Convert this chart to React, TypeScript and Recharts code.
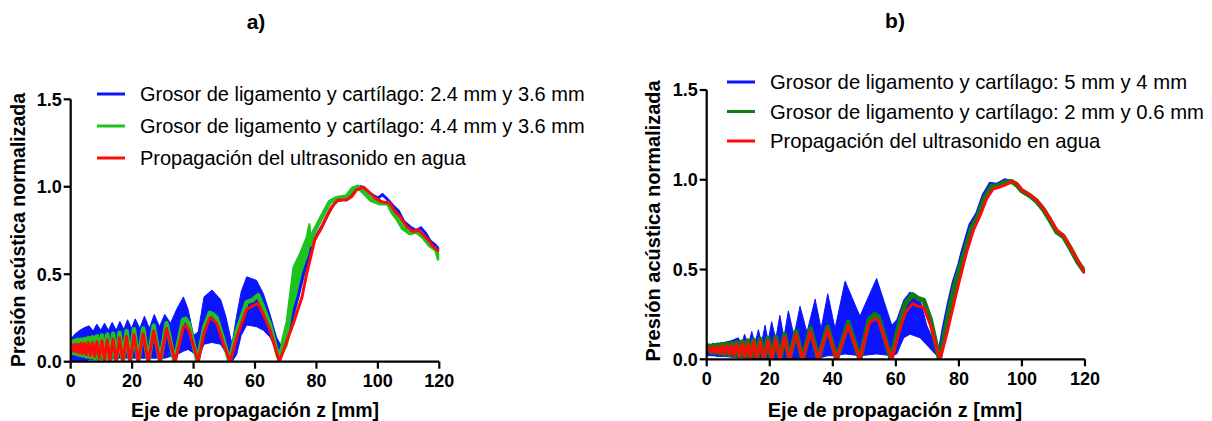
import React from "react";
import { ComposedChart, Area, Line, XAxis, YAxis } from "recharts";

// [z (mm), pressure]
const X_TICKS = [0, 20, 40, 60, 80, 100, 120];
const Y_TICKS = [0, 0.5, 1, 1.5];

const LEGEND_A = [
  "Grosor de ligamento y cartílago: 2.4 mm y 3.6 mm",
  "Grosor de ligamento y cartílago: 4.4 mm y 3.6 mm",
  "Propagación del ultrasonido en agua",
];
const LEGEND_B = [
  "Grosor de ligamento y cartílago: 5 mm y 4 mm",
  "Grosor de ligamento y cartílago: 2 mm y 0.6 mm",
  "Propagación del ultrasonido en agua",
];

// ---- panel a ----
// blue: [z, low, high] envelope of the fast oscillation
const BLUE_A_BAND = [
  [0, 0, 0.13], [1.5, 0, 0.16], [3, 0, 0.18], [4.5, 0.005, 0.195], [6, 0.01, 0.205],
  [7.3, 0.01, 0.175], [8.5, 0.01, 0.215], [9.8, 0.012, 0.18], [11, 0.015, 0.22],
  [12.3, 0.015, 0.18], [13.5, 0.015, 0.225], [14.8, 0.02, 0.18], [16, 0.02, 0.23],
  [17.3, 0.02, 0.185], [18.5, 0.02, 0.24], [19.8, 0.02, 0.19], [21, 0.02, 0.245],
  [22.5, 0.02, 0.19], [24, 0.02, 0.26], [25.6, 0.02, 0.19], [27.2, 0.02, 0.27],
  [28.9, 0.02, 0.2], [30.6, 0.02, 0.27], [32.5, 0.03, 0.22], [34.5, 0.04, 0.3],
  [36.7, 0.06, 0.37], [38.2, 0.07, 0.3], [40, 0.05, 0.15], [41.5, 0.01, 0.17],
  [43.4, 0.1, 0.37], [46, 0.11, 0.41], [48.8, 0.1, 0.355], [50.5, 0.05, 0.26],
  [52.5, 0, 0.1], [54, 0.04, 0.26], [55.5, 0.15, 0.4], [57.3, 0.21, 0.485],
  [60.5, 0.2, 0.465], [62.7, 0.18, 0.39], [64.9, 0.14, 0.27], [67, 0.06, 0.14],
  [68.5, 0.04, 0.09],
];
const BLUE_A_LINE = [
  [68.5, 0.06], [70, 0.13], [72, 0.25], [74, 0.37], [76, 0.52], [78, 0.64], [80, 0.72],
  [82, 0.78], [84.5, 0.87], [86.5, 0.92], [89.5, 0.93], [91.5, 0.96], [93, 0.99],
  [94.5, 1.0], [96.5, 0.975], [98.5, 0.95], [100, 0.935], [101.5, 0.955], [103, 0.93],
  [105, 0.89], [106.7, 0.86], [108.5, 0.8], [110.5, 0.77], [112.5, 0.75], [114, 0.765],
  [115.5, 0.735], [117, 0.69], [118.5, 0.67], [120, 0.64],
];
const GREEN_A_BAND = [
  [68.5, 0.03, 0.1], [70.3, 0.09, 0.23], [72.5, 0.25, 0.54], [74.7, 0.42, 0.62],
  [76.8, 0.54, 0.71], [77.7, 0.6, 0.79], [78.2, 0.64, 0.7], [79, 0.7, 0.735],
];
const GREEN_A = [
  [0, 0.09], [0.5, 0.115], [0.9, 0.05], [1.35, 0.12], [1.8, 0.045], [2.3, 0.125],
  [2.8, 0.04], [3.35, 0.125], [3.9, 0.035], [4.5, 0.13], [5.1, 0.03], [5.75, 0.135],
  [6.4, 0.025], [7.1, 0.14], [7.8, 0.02], [8.55, 0.145], [9.3, 0.012], [10.15, 0.15],
  [11, 0.006], [11.9, 0.155], [12.8, 0], [13.8, 0.16], [14.8, 0], [15.9, 0.165], [17, 0],
  [18.2, 0.175], [19.3, 0], [20.6, 0.185], [22, 0], [23.6, 0.19], [25.3, 0], [27, 0.205],
  [29.1, 0], [31.2, 0.22], [33.8, 0], [36.6, 0.24], [37.4, 0.245], [38.5, 0.215],
  [41.3, 0], [43.5, 0.2], [45.3, 0.28], [46.3, 0.27], [47.5, 0.25], [49.8, 0.12],
  [51.7, 0], [54, 0.17], [57.3, 0.34], [59, 0.35], [61, 0.38], [62.7, 0.31], [64.9, 0.21],
  [67.5, 0.03], [68.5, 0.06], [70.3, 0.16], [72.5, 0.4], [74.7, 0.52], [76.8, 0.62],
  [77.7, 0.72], [78.2, 0.67], [79, 0.735], [81.2, 0.81], [84.4, 0.915], [86.6, 0.935],
  [89.8, 0.944], [91.9, 0.99], [93.5, 1.0], [95.7, 0.963], [97.8, 0.925], [100.6, 0.906],
  [103.3, 0.906], [104.9, 0.85], [106.6, 0.81], [108.2, 0.763], [110.4, 0.735],
  [112.5, 0.744], [114.7, 0.715], [116.8, 0.668], [119, 0.64], [120, 0.58],
];
const RED_A = [
  [0, 0.075], [0.5, 0.095], [0.9, 0.06], [1.35, 0.1], [1.8, 0.055], [2.3, 0.1], [2.8, 0.05],
  [3.35, 0.105], [3.9, 0.045], [4.5, 0.105], [5.1, 0.04], [5.75, 0.11], [6.4, 0.035],
  [7.1, 0.11], [7.8, 0.03], [8.55, 0.115], [9.3, 0.02], [10.15, 0.12], [11, 0.012],
  [11.9, 0.125], [12.8, 0.005], [13.8, 0.13], [14.8, 0], [15.9, 0.135], [17, 0],
  [18.2, 0.145], [19.3, 0], [20.6, 0.155], [22, 0], [23.6, 0.16], [25.3, 0], [27, 0.175],
  [29.1, 0], [31.2, 0.19], [34, 0], [36.7, 0.2], [37.5, 0.205], [38.5, 0.18], [41.5, 0],
  [43.5, 0.17], [45.3, 0.25], [46.3, 0.24], [47.5, 0.22], [49.8, 0.1], [51.9, 0],
  [54.1, 0.14], [57.3, 0.3], [58.9, 0.315], [61, 0.335], [62.7, 0.27], [64.9, 0.18],
  [67.9, 0], [70.3, 0.115], [72.5, 0.22], [75.3, 0.37], [76.8, 0.5], [79.5, 0.7],
  [81.2, 0.75], [83.3, 0.83], [85.5, 0.896], [87.1, 0.925], [89.8, 0.925], [91.5, 0.944],
  [93.1, 0.982], [95.3, 0.998], [96.9, 0.973], [99.1, 0.935], [101.2, 0.915],
  [103.9, 0.906], [105.6, 0.858], [107.2, 0.83], [109.4, 0.772], [111.5, 0.744],
  [113.2, 0.753], [114.8, 0.725], [116.4, 0.696], [118, 0.658], [120, 0.63],
];

// ---- panel b ----
const BLUE_B_BAND = [
  [0, 0.02, 0.08], [2, 0.02, 0.085], [4, 0.015, 0.09], [6, 0.015, 0.095], [8, 0.012, 0.105],
  [10, 0.01, 0.12], [11.1, 0.01, 0.08], [12, 0.01, 0.14], [13.2, 0.01, 0.08],
  [14.3, 0.005, 0.155], [15.3, 0.005, 0.085], [16.4, 0.005, 0.165], [17.4, 0.005, 0.09],
  [18.5, 0, 0.19], [19.5, 0, 0.1], [20.6, 0, 0.21], [21.9, 0, 0.11], [23.2, 0, 0.245],
  [24.5, 0, 0.12], [25.9, 0, 0.27], [27.7, 0, 0.13], [29.6, 0, 0.295], [31.8, 0, 0.15],
  [34.4, 0, 0.335], [36.3, 0.01, 0.17], [38.4, 0.02, 0.365], [40.7, 0.02, 0.17],
  [43.9, 0.03, 0.435], [48.6, 0.02, 0.24], [53.9, 0.03, 0.45], [58.7, 0.02, 0.19],
  [60.3, 0.03, 0.22], [62.5, 0.12, 0.33], [64.5, 0.14, 0.375], [67.7, 0.12, 0.33],
  [69.8, 0.08, 0.19], [73, 0.02, 0.06], [74, 0, 0.02],
];
const BLUE_B_LINE = [
  [73.5, 0.02], [75, 0.17], [76.5, 0.3], [78.2, 0.43], [80, 0.53], [81, 0.6], [83.5, 0.75],
  [85.6, 0.81], [87.7, 0.915], [89.9, 0.98], [92, 0.975], [94.6, 1.0], [96.8, 0.99],
  [98.5, 0.965], [100, 0.935], [102.5, 0.91], [104.7, 0.875], [106.8, 0.83],
  [108.9, 0.775], [111, 0.71], [113.1, 0.685], [115.3, 0.62], [117.3, 0.55], [120, 0.485],
];
const GREEN_B = [
  [0, 0.055], [0.7, 0.075], [1.4, 0.04], [2.1, 0.078], [2.8, 0.037], [3.5, 0.08],
  [4.2, 0.034], [4.9, 0.083], [5.6, 0.03], [6.4, 0.086], [7.2, 0.026], [8, 0.09],
  [8.8, 0.022], [9.6, 0.094], [10.4, 0.017], [11.3, 0.098], [12.1, 0.012], [13, 0.103],
  [13.9, 0.006], [14.9, 0.108], [15.9, 0], [17, 0.112], [18.2, 0], [19.4, 0.118],
  [20.6, 0], [21.9, 0.125], [23.2, 0], [24.7, 0.14], [26.2, 0], [28.3, 0.155], [30.4, 0],
  [32.9, 0.17], [35.4, 0], [38.3, 0.18], [41.2, 0], [44.9, 0.205], [48.6, 0], [51.5, 0.22],
  [53.3, 0.25], [54.5, 0.235], [58.5, 0], [61, 0.19], [63, 0.31], [65.3, 0.36], [67, 0.34],
  [68.8, 0.33], [71, 0.22], [73.8, 0], [75, 0.1], [77, 0.28], [78.8, 0.42], [81.7, 0.59],
  [84, 0.73], [86.1, 0.8], [88.2, 0.9], [90.4, 0.965], [92.5, 0.965], [94.6, 0.985],
  [96.8, 0.99], [98.4, 0.97], [99.9, 0.94], [102.6, 0.91], [104.7, 0.88], [106.8, 0.835],
  [108.9, 0.775], [111, 0.71], [113.1, 0.685], [115.3, 0.62], [117.6, 0.545], [120, 0.485],
];
const RED_B = [
  [0, 0.05], [0.7, 0.065], [1.4, 0.04], [2.1, 0.068], [2.8, 0.037], [3.5, 0.07],
  [4.2, 0.034], [4.9, 0.073], [5.6, 0.03], [6.4, 0.076], [7.2, 0.026], [8, 0.08],
  [8.8, 0.022], [9.6, 0.083], [10.4, 0.017], [11.3, 0.087], [12.1, 0.012], [13, 0.092],
  [13.9, 0.006], [14.9, 0.097], [15.9, 0], [17, 0.1], [18.2, 0], [19.4, 0.105], [20.6, 0],
  [21.9, 0.112], [23.2, 0], [24.7, 0.125], [26.2, 0], [28.3, 0.14], [30.4, 0],
  [32.9, 0.155], [35.4, 0], [38.3, 0.165], [41.2, 0], [44.9, 0.185], [48.6, 0],
  [51.5, 0.2], [53.3, 0.225], [54.5, 0.215], [58.7, 0], [61, 0.15], [63, 0.26],
  [65.3, 0.31], [67, 0.295], [68.8, 0.29], [71, 0.19], [74, 0], [76, 0.13], [78, 0.28],
  [79.8, 0.414], [82.5, 0.6], [84.6, 0.72], [86.7, 0.8], [88.8, 0.895], [90.9, 0.95],
  [93, 0.96], [94.6, 0.97], [96.8, 0.99], [98.4, 0.98], [99.9, 0.945], [102.6, 0.915],
  [104.7, 0.887], [106.8, 0.84], [108.9, 0.785], [111, 0.72], [113.1, 0.692],
  [115.3, 0.627], [117.9, 0.544], [120, 0.479],
];

const BLUE = "#0a14ff";
const RED = "#ff0a0a";
const GREEN_LIGHT = "#1fc31f";
const GREEN_DARK = "#0e7d12";
const FONT = "'Liberation Sans', Arial, Helvetica, sans-serif";

const toLine = (pts: number[][]) => pts.map(([z, v]) => ({ z, v }));
const toBand = (pts: number[][]) => pts.map(([z, lo, hi]) => ({ z, v: [lo, hi] }));

const tickStyle = { fontSize: 18, fontWeight: 700, fill: "#000", fontFamily: FONT };

type PanelProps = {
  left: number;
  width: number;
  margin: { top: number; right: number; bottom: number; left: number };
  blueBand: number[][];
  blueLine: number[][];
  greenBand?: number[][];
  green: number[][];
  red: number[][];
  greenColor: string;
  greenWidth: number;
};

function Panel(p: PanelProps) {
  return (
    <div style={{ position: "absolute", left: p.left, top: 0 }}>
      <ComposedChart width={p.width} height={421} margin={p.margin}>
        <XAxis
          dataKey="z"
          type="number"
          domain={[0, 120]}
          ticks={X_TICKS}
          allowDataOverflow
          height={30}
          stroke="#000"
          strokeWidth={2.2}
          tickSize={7}
          tickMargin={6}
          tick={tickStyle}
          tickLine={{ stroke: "#000", strokeWidth: 2.2 }}
        />
        <YAxis
          type="number"
          domain={[0, 1.5]}
          ticks={Y_TICKS}
          allowDataOverflow
          width={50}
          stroke="#000"
          strokeWidth={2.2}
          tickSize={7}
          tickMargin={2}
          tick={tickStyle}
          tickLine={{ stroke: "#000", strokeWidth: 2.2 }}
          tickFormatter={(v: number) => v.toFixed(1)}
        />
        <Area
          data={toBand(p.blueBand)}
          dataKey="v"
          type="linear"
          stroke={BLUE}
          strokeWidth={1}
          fill={BLUE}
          fillOpacity={1}
          isAnimationActive={false}
        />
        <Line
          data={toLine(p.blueLine)}
          dataKey="v"
          type="linear"
          stroke={BLUE}
          strokeWidth={3}
          dot={false}
          isAnimationActive={false}
        />
        {p.greenBand && (
          <Area
            data={toBand(p.greenBand)}
            dataKey="v"
            type="linear"
            stroke={p.greenColor}
            strokeWidth={2}
            fill={p.greenColor}
            fillOpacity={1}
            isAnimationActive={false}
          />
        )}
        <Line
          data={toLine(p.green)}
          dataKey="v"
          type="linear"
          stroke={p.greenColor}
          strokeWidth={p.greenWidth}
          strokeLinejoin="round"
          dot={false}
          isAnimationActive={false}
        />
        <Line
          data={toLine(p.red)}
          dataKey="v"
          type="linear"
          stroke={RED}
          strokeWidth={3}
          strokeLinejoin="round"
          dot={false}
          isAnimationActive={false}
        />
      </ComposedChart>
    </div>
  );
}

function Legend({ x, y0, gap, size, labels, colors }: { x: number; y0: number; gap: number; size: number; labels: string[]; colors: string[] }) {
  return (
    <g>
      {labels.map((label, i) => (
        <g key={label}>
          <line x1={x} x2={x + 28} y1={y0 + i * gap} y2={y0 + i * gap} stroke={colors[i]} strokeWidth={3} />
          <text x={x + 43} y={y0 + i * gap + 7} fontSize={size} fontFamily={FONT} fill="#000">
            {label}
          </text>
        </g>
      ))}
    </g>
  );
}

export default function App() {
  const boldText = { fontFamily: FONT, fontWeight: 700, fill: "#000" } as const;
  return (
    <div style={{ position: "absolute", left: 0, top: 0, width: 1212, height: 421, background: "#fff" }}>
      <Panel
        left={0}
        width={460}
        margin={{ top: 99.3, right: 20.7, bottom: 29.3, left: 20.7 }}
        blueBand={BLUE_A_BAND}
        blueLine={BLUE_A_LINE}
        greenBand={GREEN_A_BAND}
        green={GREEN_A}
        red={RED_A}
        greenColor={GREEN_LIGHT}
        greenWidth={4.5}
      />
      <Panel
        left={630}
        width={470}
        margin={{ top: 90, right: 15, bottom: 31.7, left: 26.7 }}
        blueBand={BLUE_B_BAND}
        blueLine={BLUE_B_LINE}
        green={GREEN_B}
        red={RED_B}
        greenColor={GREEN_DARK}
        greenWidth={5}
      />
      <svg width={1212} height={421} style={{ position: "absolute", left: 0, top: 0, pointerEvents: "none" }}>
        <text x={256} y={29} textAnchor="middle" fontSize={21} {...boldText}>a)</text>
        <text x={895} y={28} textAnchor="middle" fontSize={21} {...boldText}>b)</text>
        <text x={255} y={417} textAnchor="middle" fontSize={19.5} {...boldText}>Eje de propagación z [mm]</text>
        <text x={895} y={417} textAnchor="middle" fontSize={20} {...boldText}>Eje de propagación z [mm]</text>
        <text transform="translate(25,230) rotate(-90)" textAnchor="middle" fontSize={19.5} {...boldText}>
          Presión acústica normalizada
        </text>
        <text transform="translate(660,221) rotate(-90)" textAnchor="middle" fontSize={20} {...boldText}>
          Presión acústica normalizada
        </text>
        <Legend x={97} y0={94} gap={32} size={20} labels={LEGEND_A} colors={[BLUE, GREEN_LIGHT, RED]} />
        <Legend x={727} y0={82} gap={29.5} size={20.3} labels={LEGEND_B} colors={[BLUE, GREEN_DARK, RED]} />
      </svg>
    </div>
  );
}
